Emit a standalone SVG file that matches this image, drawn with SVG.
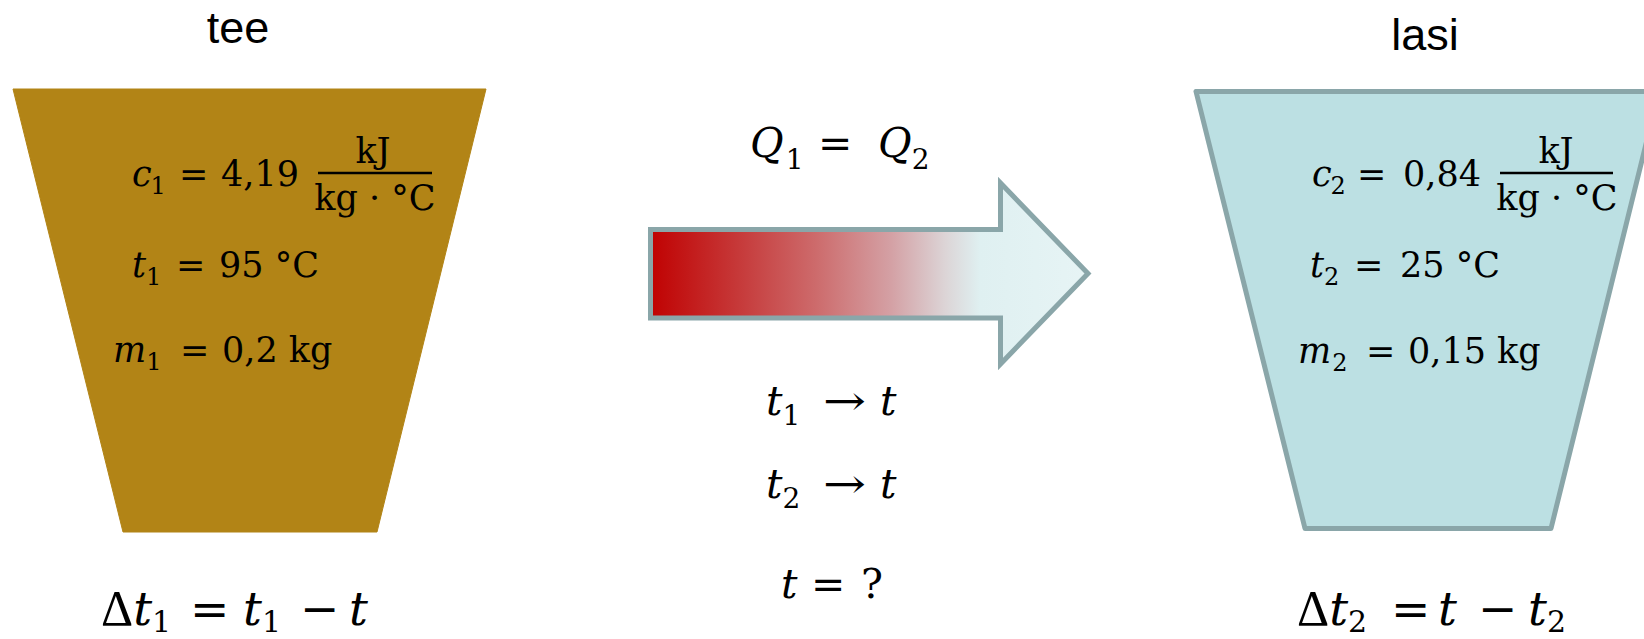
<svg xmlns="http://www.w3.org/2000/svg" width="1644" height="639" viewBox="0 0 1644 639">
  <defs>
    <linearGradient id="heat" x1="648" y1="0" x2="1091" y2="0" gradientUnits="userSpaceOnUse">
      <stop offset="0" stop-color="#c00000"/>
      <stop offset="0.2" stop-color="#c63838"/>
      <stop offset="0.38" stop-color="#cd6b6c"/>
      <stop offset="0.55" stop-color="#d4a1a5"/>
      <stop offset="0.67" stop-color="#dcd4d6"/>
      <stop offset="0.75" stop-color="#dff0f1"/>
      <stop offset="1" stop-color="#e7f4f5"/>
    </linearGradient>
    <style>
      .lbl { font-family: "Liberation Sans", "Open Sans", sans-serif; font-size: 45px; fill: #000; text-anchor: middle; }
      .m { font-family: "DejaVu Serif", "Liberation Serif", serif; font-size: 35px; fill: #000; }
      .i { font-style: italic; }
      .s { font-size: 24px; }
      .mc { text-anchor: middle; }
      .big { font-size: 47px; }
      .bs { font-size: 30px; }
      .dl { font-family: "Liberation Serif", serif; font-size: 50px; }
      .mid { font-size: 41px; }
      .ms { font-size: 28px; }
      .frac { stroke: #000; stroke-width: 2.5; }
    </style>
  </defs>

  <g id="connectors">
    <path d="M650.5,229.5 H1000.5 V183 L1088,273.5 L1000.5,364 V318 H650.5 Z" fill="url(#heat)" stroke="#8aa6a9" stroke-width="5" stroke-linejoin="miter"/>
  </g>

  <g id="node-tee">
    <text class="lbl" x="238" y="43">tee</text>
    <polygon points="13,89 486,89 377,532 123,532" fill="#b28416" stroke="#b28416" stroke-width="1" stroke-linejoin="round"/>
    <text class="m" x="132" y="186"><tspan class="i">c</tspan><tspan class="s" dx="-1" dy="8">1</tspan></text>
    <text class="m" x="179" y="186">=</text>
    <text class="m" x="221" y="186">4,19</text>
    <text class="m mc" x="373" y="163">kJ</text>
    <line class="frac" x1="318" y1="173" x2="432" y2="173"/>
    <text class="m mc" x="375" y="210">kg · °C</text>
    <text class="m" x="132" y="277"><tspan class="i">t</tspan><tspan class="s" dx="0" dy="8">1</tspan></text>
    <text class="m" x="176" y="277">=</text>
    <text class="m" x="219" y="277">95 °C</text>
    <text class="m" x="113" y="362"><tspan class="i">m</tspan><tspan class="s" dx="0" dy="8">1</tspan></text>
    <text class="m" x="180" y="362">=</text>
    <text class="m" x="222" y="362">0,2 kg</text>
    <text class="m big" x="101" y="625"><tspan class="dl">Δ</tspan><tspan class="i">t</tspan><tspan class="bs" dx="0" dy="7">1</tspan></text>
    <text class="m big" x="190" y="625">=</text>
    <text class="m big" x="243" y="625"><tspan class="i">t</tspan><tspan class="bs" dx="0" dy="7">1</tspan></text>
    <text class="m big" x="300" y="625">−</text>
    <text class="m big i" x="349" y="625">t</text>
  </g>

  <g id="node-center">
    <text class="m mid" x="750" y="157"><tspan class="i">Q</tspan><tspan class="ms" dx="2" dy="12">1</tspan></text>
    <text class="m mid" x="818" y="157">=</text>
    <text class="m mid" x="878" y="157"><tspan class="i">Q</tspan><tspan class="ms" dx="0" dy="12">2</tspan></text>
    <text class="m mid" x="766" y="415"><tspan class="i">t</tspan><tspan class="ms" dx="0" dy="10">1</tspan></text>
    <text class="m mid" x="823" y="415" textLength="43" lengthAdjust="spacingAndGlyphs">→</text>
    <text class="m mid i" x="880" y="415">t</text>
    <text class="m mid" x="766" y="498"><tspan class="i">t</tspan><tspan class="ms" dx="0" dy="10">2</tspan></text>
    <text class="m mid" x="823" y="498" textLength="43" lengthAdjust="spacingAndGlyphs">→</text>
    <text class="m mid i" x="880" y="498">t</text>
    <text class="m mid i" x="781" y="598">t</text>
    <text class="m mid" x="811" y="598">=</text>
    <text class="m mid" x="861" y="598">?</text>
  </g>

  <g id="node-lasi">
    <text class="lbl" x="1425" y="50">lasi</text>
    <polygon points="1196,91.5 1659,91.5 1551,528.5 1305,528.5" fill="#bce0e3" stroke="#8aa6a9" stroke-width="5" stroke-linejoin="round"/>
    <text class="m" x="1312" y="186"><tspan class="i">c</tspan><tspan class="s" dx="-1" dy="8">2</tspan></text>
    <text class="m" x="1357" y="186">=</text>
    <text class="m" x="1403" y="186">0,84</text>
    <text class="m mc" x="1556" y="163">kJ</text>
    <line class="frac" x1="1500" y1="173" x2="1613" y2="173"/>
    <text class="m mc" x="1557" y="210">kg · °C</text>
    <text class="m" x="1310" y="277"><tspan class="i">t</tspan><tspan class="s" dx="0" dy="8">2</tspan></text>
    <text class="m" x="1354" y="277">=</text>
    <text class="m" x="1400" y="277">25 °C</text>
    <text class="m" x="1298" y="363"><tspan class="i">m</tspan><tspan class="s" dx="1" dy="8">2</tspan></text>
    <text class="m" x="1366" y="363">=</text>
    <text class="m" x="1408" y="363">0,15 kg</text>
    <text class="m big" x="1297" y="625"><tspan class="dl">Δ</tspan><tspan class="i">t</tspan><tspan class="bs" dx="0" dy="7">2</tspan></text>
    <text class="m big" x="1391" y="625">=</text>
    <text class="m big i" x="1438" y="625">t</text>
    <text class="m big" x="1478" y="625">−</text>
    <text class="m big" x="1528" y="625"><tspan class="i">t</tspan><tspan class="bs" dx="0" dy="7">2</tspan></text>
  </g>
</svg>
